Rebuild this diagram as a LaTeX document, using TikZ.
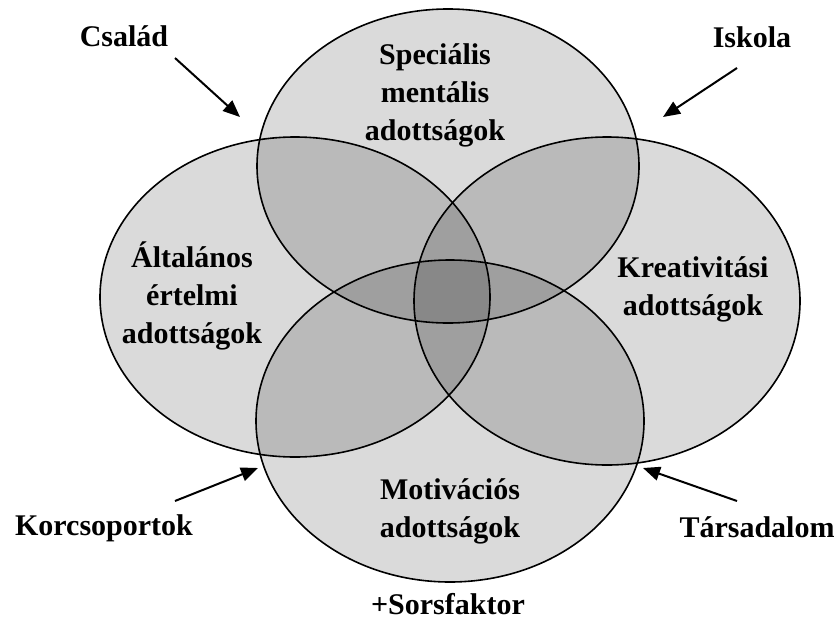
\documentclass[tikz,border=0pt]{standalone}
\usepackage{fontspec}
\setmainfont{Liberation Serif}
\usetikzlibrary{arrows.meta}
\begin{document}
\begin{tikzpicture}[x=1pt,y=-1pt,
  lbl/.style={font=\fontsize{30}{38}\selectfont\bfseries, align=center, inner sep=0pt, anchor=base},
  blob/.style={fill=black, fill opacity=0.145},
  rim/.style={draw=black, line width=1.6pt},
  pointer/.style={line width=2pt, -{Triangle[length=17pt,width=14pt]}}]
\useasboundingbox (0,0) rectangle (835,621);
% centres of the four ability sets
\coordinate (cSp) at (448,166);
\coordinate (cAl) at (295,297);
\coordinate (cKr) at (607,301);
\coordinate (cMo) at (450,421);
% translucent fills first, so overlaps darken
\fill[blob] (cSp) ellipse [x radius=191, y radius=157];
\fill[blob] (cAl) ellipse [x radius=195, y radius=160];
\fill[blob] (cKr) ellipse [x radius=193, y radius=164];
\fill[blob] (cMo) ellipse [x radius=194, y radius=161];
% outlines on top
\draw[rim] (cSp) ellipse [x radius=191, y radius=157];
\draw[rim] (cAl) ellipse [x radius=195, y radius=160];
\draw[rim] (cKr) ellipse [x radius=193, y radius=164];
\draw[rim] (cMo) ellipse [x radius=194, y radius=161];
% set labels (anchored on the baseline of the last line)
\node[lbl] (sp) at (435,140) {Speciális\\mentális\\adottságok};
\node[lbl] (al) at (192,343) {Általános\\értelmi\\adottságok};
\node[lbl] (kr) at (693,315) {Kreativitási\\adottságok};
\node[lbl] (mo) at (450,537) {Motivációs\\adottságok};
% environmental factors
\node[lbl] (cs) at (124,46) {Család};
\node[lbl] (is) at (752,47) {Iskola};
\node[lbl] (ko) at (104,535) {Korcsoportok};
\node[lbl] (ta) at (757,537) {Társadalom};
\node[lbl] (so) at (448,614) {+Sorsfaktor};
% arrows pointing at the diagram
\coordinate (csA) at (175,58);  \coordinate (csB) at (240,117);
\coordinate (isA) at (737,68);  \coordinate (isB) at (663,117);
\coordinate (koA) at (175,501); \coordinate (koB) at (258,468);
\coordinate (taA) at (737,501); \coordinate (taB) at (643,468);
\draw[pointer] (csA) -- (csB);
\draw[pointer] (isA) -- (isB);
\draw[pointer] (koA) -- (koB);
\draw[pointer] (taA) -- (taB);
\end{tikzpicture}
\end{document}
